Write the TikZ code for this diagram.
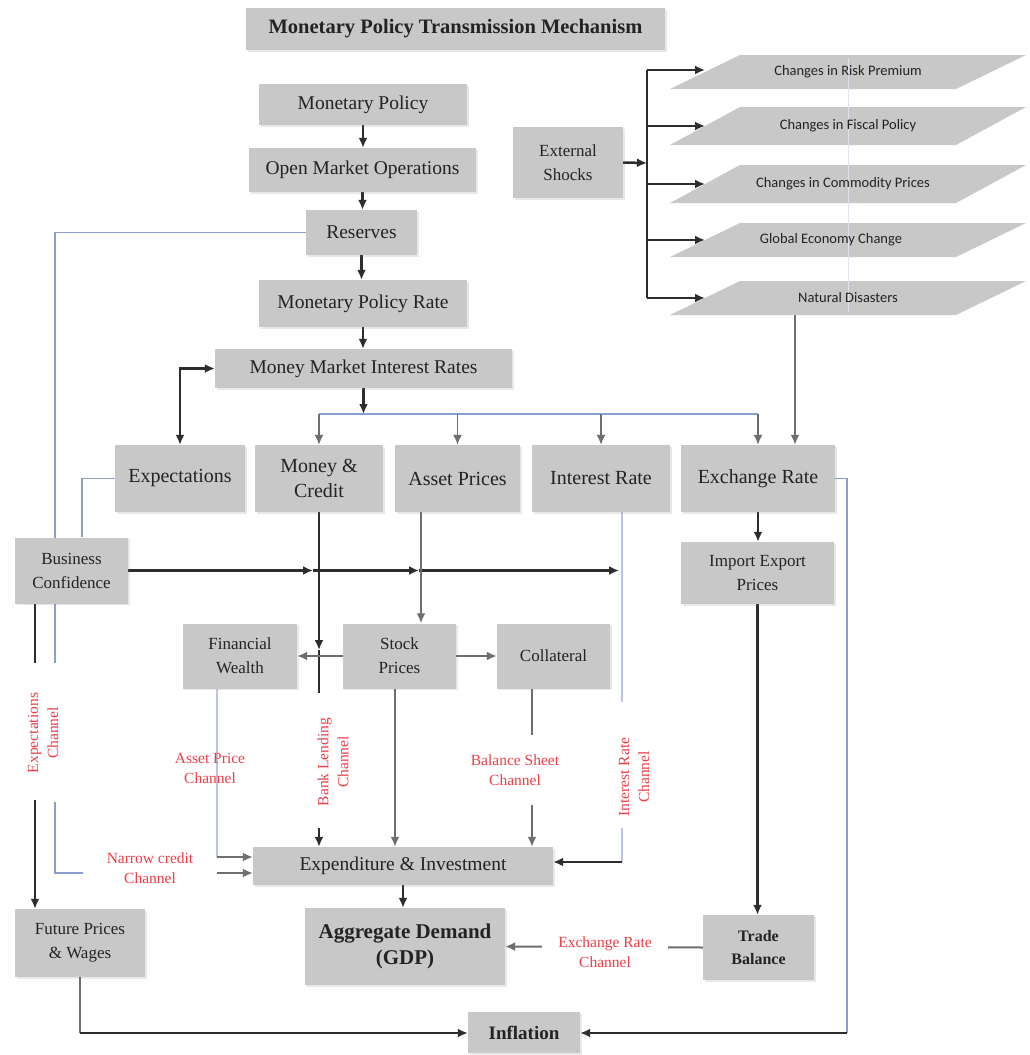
\documentclass[tikz,border=0pt]{standalone}
\usepackage{fontspec}
\setmainfont{Liberation Serif}
\newfontfamily\calib{Carlito}
\usetikzlibrary{arrows.meta,shadows}

\definecolor{boxgray}{RGB}{200,200,200}
\definecolor{txtdark}{RGB}{35,35,35}
\definecolor{dkline}{RGB}{45,45,45}
\definecolor{grline}{RGB}{110,110,110}
\definecolor{blline}{RGB}{140,158,205}
\definecolor{faline}{RGB}{188,196,228}
\definecolor{redlab}{RGB}{238,62,72}

\pgfdeclarelayer{paper}
\pgfdeclarelayer{bg}
\pgfsetlayers{paper,bg,main}

\begin{document}
\begin{tikzpicture}[x=1pt,y=-1pt,
  >={Latex[length=10pt,width=9pt]},
  box/.style={fill=boxgray, draw=none, align=center, inner sep=2pt, text=txtdark,
    drop shadow={shadow xshift=1.5pt, shadow yshift=-1.5pt, opacity=0.18}},
  fbig/.style={font=\fontsize{19.5}{24}\selectfont},
  frow/.style={font=\fontsize{20}{25}\selectfont},
  fsmall/.style={font=\fontsize{17}{24}\selectfont},
  para/.style={fill=boxgray},
  ptext/.style={font=\calib\fontsize{14.5}{17}\selectfont, text=txtdark, inner sep=0pt},
  dk/.style={draw=dkline, line width=2.5pt},
  gr/.style={draw=grline, line width=2pt},
  bl/.style={draw=blline, line width=1.7pt},
  fa/.style={draw=faline, line width=1.6pt},
  lab/.style={text=redlab, align=center, inner sep=1pt, font=\fontsize{15.5}{20}\selectfont}]

\begin{pgfonlayer}{paper}
  \fill[white] (0,0) rectangle (1030,1055);
\end{pgfonlayer}
\useasboundingbox (0,0) rectangle (1030,1055);

% ---------- title ----------
\node[box, minimum width=419, minimum height=42, font=\bfseries\fontsize{20.5}{24}\selectfont] (title) at (455.5,29) {Monetary Policy Transmission Mechanism};

% ---------- policy chain ----------
\node[box, fbig, minimum width=208, minimum height=41] (mp)   at (363,104.5)  {Monetary Policy};
\node[box, fbig, minimum width=227, minimum height=44] (omo)  at (362.5,170)  {Open Market Operations};
\node[box, fbig, minimum width=111, minimum height=45] (res)  at (361.5,232.5){Reserves};
\node[box, fbig, minimum width=208, minimum height=47] (mpr)  at (363,303.5)  {Monetary Policy Rate};
\node[box, fbig, minimum width=297, minimum height=39] (mmir) at (363.5,368.5){Money Market Interest Rates};

% ---------- external shocks ----------
\node[box, fsmall, minimum width=110, minimum height=71] (ext) at (568,162.5) {External\\Shocks};

\foreach \i/\yt/\yb in {1/55/89, 2/107/145, 3/165/203, 4/223/257, 5/281/315}
  \fill[para] (670,\yb) -- (740,\yt) -- (1026,\yt) -- (956,\yb) -- cycle;
\draw[draw={rgb,255:red,222;green,227;blue,238}, line width=1pt] (848,58) -- (848,312);
\node[ptext] (p1) at (848,72)  {Changes in Risk Premium};
\node[ptext] (p2) at (848,126) {Changes in Fiscal Policy};
\node[ptext] (p3) at (843,184) {Changes in Commodity Prices};
\node[ptext] (p4) at (831,240) {Global Economy Change};
\node[ptext] (p5) at (848,298) {Natural Disasters};
\foreach \i/\y in {1/70, 2/126, 3/184, 4/240, 5/298}
  \coordinate (pw\i) at (705,\y);

% ---------- transmission channels ----------
\node[box, frow, minimum width=130, minimum height=67] (exp) at (180,478.5)   {Expectations};
\node[box, frow, minimum width=128, minimum height=67] (mc)  at (319,478.5)   {Money \&\\Credit};
\node[box, frow, minimum width=125, minimum height=67] (ap)  at (457.5,478.5) {Asset Prices};
\node[box, frow, minimum width=138, minimum height=67] (ir)  at (601,478.5)   {Interest Rate};
\node[box, frow, minimum width=154, minimum height=67] (er)  at (758,478.5)   {Exchange Rate};

\node[box, fsmall, minimum width=113, minimum height=66] (bc)  at (71.5,570.5) {Business\\Confidence};
\node[box, fsmall, minimum width=153, minimum height=62] (iep) at (757.5,573)  {Import Export\\Prices};
\node[box, fsmall, minimum width=114, minimum height=65] (fw)  at (240,656)    {Financial\\Wealth};
\node[box, fsmall, minimum width=113, minimum height=65] (sp)  at (399.5,656)  {Stock\\Prices};
\node[box, fsmall, minimum width=113, minimum height=65] (col) at (553.5,656)  {Collateral};

% ---------- outcomes ----------
\node[box, fbig, minimum width=300, minimum height=38] (ei) at (403,866) {Expenditure \& Investment};
\node[box, minimum width=200, minimum height=77, font=\bfseries\fontsize{21}{26}\selectfont] (ad) at (405,946.5) {Aggregate Demand\\(GDP)};
\node[box, minimum width=111, minimum height=65, font=\bfseries\fontsize{16}{23}\selectfont] (tb) at (758.5,947.5) {Trade\\Balance};
\node[box, fsmall, minimum width=130, minimum height=68] (fpw) at (80,943) {Future Prices\\\& Wages};
\node[box, minimum width=112, minimum height=41, font=\bfseries\fontsize{19}{23}\selectfont] (inf) at (524,1032.5) {Inflation};

% ---------- channel labels ----------
\node[lab, rotate=90] (lexp)  at (43,733)  {Expectations\\Channel};
\node[lab]            (lasp)  at (210,768) {Asset Price\\Channel};
\node[lab, rotate=90] (lbank) at (333,762) {Bank Lending\\Channel};
\node[lab]            (lbal)  at (515,770) {Balance Sheet\\Channel};
\node[lab, rotate=90] (lint)  at (634,777) {Interest Rate\\Channel};
\node[lab]            (lnar)  at (150,868) {Narrow credit\\Channel};
\node[lab, fill=white, inner xsep=16pt] (lexr) at (605,952) {Exchange Rate\\Channel};

% ---------- connectors ----------
\begin{pgfonlayer}{bg}
  % policy chain
  \draw[dk,->] (mp.south)  -- (mp.south |- omo.north);
  \draw[dk,->] (omo.south) -- (omo.south |- res.north);
  \draw[dk,->] (res.south) -- (res.south |- mpr.north);
  \draw[dk,->] (mpr.south) -- (mpr.south |- mmir.north);
  % expectations feedback
  \draw[dk,<->] (exp.north) |- (mmir.west);
  % distribution bus
  \coordinate (bus) at (363.5,414);
  \draw[dk,->] (mmir.south) -- (bus);
  \draw[bl] (bus -| mc.north) -- (bus -| er.north);
  \foreach \n in {mc,ap,ir,er}
    \draw[gr,line width=1.6pt,->] (bus -| \n.north) -- (\n.north);
  % external shocks
  \coordinate (eb) at (647,163);
  \draw[dk,->] (ext.east) -- (eb);
  \draw[dk] (eb |- pw1) -- (eb |- pw5);
  \foreach \i in {1,...,5}
    \draw[dk,->] (eb |- pw\i) -- (pw\i);
  \coordinate (nds) at (795,315);
  \draw[gr,->] (nds) -- (nds |- er.north);
  % reserves to spending
  \coordinate (r1) at (55,663);
  \coordinate (r2) at (55,802);
  \coordinate (r3) at (83,873);
  \coordinate (r4) at (217,873);
  \draw[bl] (res.west) -| (r1);
  \draw[bl] (r2) |- (r3);
  \draw[gr,->] (r4) -- (r4 -| ei.west);
  % expectations to business confidence
  \coordinate (e1) at (82,0);
  \draw[bl] (exp.west) -| (e1 |- bc.north);
  % business confidence line
  \coordinate (h1) at (313,570.5);
  \coordinate (h2) at (419,570.5);
  \coordinate (h3) at (619,570.5);
  \draw[dk,->] (bc.east) -- (h1);
  \draw[dk,->] (h1) -- (h2);
  \draw[dk,->] (h2) -- (h3);
  % money & credit
  \coordinate (m1) at (319,650);
  \coordinate (m2) at (319,693);
  \coordinate (m3) at (319,828);
  \draw[dk,->] (mc.south) -- (m1);
  \draw[dk] (m1) -- (m2);
  \draw[dk,->] (m3) -- (m3 |- ei.north);
  % asset prices
  \coordinate (a1) at (421,0);
  \draw[gr,->] (a1 |- ap.south) -- (a1 |- sp.north);
  \draw[gr,->] (sp.west) -- (fw.east);
  \draw[gr,->] (sp.east) -- (col.west);
  \coordinate (s1) at (395,0);
  \draw[gr,->] (s1 |- sp.south) -- (s1 |- ei.north);
  % collateral
  \coordinate (c1) at (532,735);
  \coordinate (c2) at (532,805);
  \draw[gr] (c1 |- col.south) -- (c1);
  \draw[gr,->] (c2) -- (c2 |- ei.north);
  % financial wealth
  \coordinate (w1) at (217,857);
  \draw[fa] (w1 |- fw.south) -- (w1);
  \draw[gr,->] (w1) -- (w1 -| ei.west);
  % interest rate
  \coordinate (i1) at (622,702);
  \coordinate (i2) at (622,828);
  \coordinate (i3) at (622,862);
  \draw[fa] (i1 |- ir.south) -- (i1);
  \draw[fa] (i2) -- (i3);
  \draw[dk,->] (i3) -- (i3 -| ei.east);
  % business confidence to future prices
  \coordinate (b1) at (35,663);
  \coordinate (b2) at (35,800);
  \draw[dk] (b1 |- bc.south) -- (b1);
  \draw[dk,->] (b2) -- (b2 |- fpw.north);
  % spending to demand
  \draw[dk,->] (ei.south) -- (ei.south |- ad.north);
  % exchange rate path
  \draw[dk,->] (er.south) -- (er.south |- iep.north);
  \draw[dk,->] (iep.south) -- (iep.south |- tb.north);
  \draw[gr,->] (tb.west) -- (ad.east);
  % inflation
  \coordinate (x1) at (847,1033);
  \draw[bl] (er.east) -| (x1);
  \draw[dk,->] (x1) -- (x1 -| inf.east);
  \coordinate (f1) at (80,1033);
  \draw[gr] (fpw.south) -- (f1);
  \draw[dk,->] (f1) -- (f1 -| inf.west);
\end{pgfonlayer}
\end{tikzpicture}
\end{document}
